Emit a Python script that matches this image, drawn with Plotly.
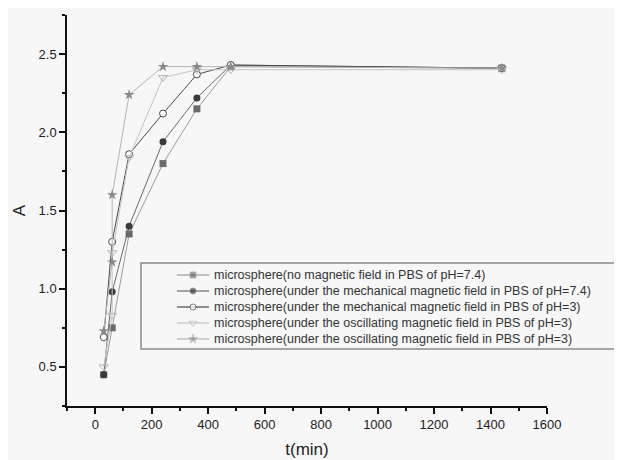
import plotly.graph_objects as go

# ---- data ----
names = [
    "microsphere(no magnetic field in PBS of pH=7.4)",
    "microsphere(under the mechanical magnetic field in PBS of pH=7.4)",
    "microsphere(under the mechanical magnetic field in PBS of pH=3)",
    "microsphere(under the oscillating magnetic field in PBS of pH=3)",
    "microsphere(under the oscillating magnetic field in PBS of pH=3)",
]
t_sq = [30, 60, 120, 240, 360, 480, 1440]
a_sq = [0.45, 0.75, 1.35, 1.80, 2.15, 2.42, 2.41]
t_fc = [30, 60, 120, 240, 360, 480, 1440]
a_fc = [0.45, 0.98, 1.40, 1.94, 2.22, 2.43, 2.41]
t_oc = [30, 60, 120, 240, 360, 480, 1440]
a_oc = [0.69, 1.30, 1.86, 2.12, 2.37, 2.43, 2.41]
t_tr = [30, 60, 60, 120, 240, 360, 480, 1440]
a_tr = [0.50, 0.83, 1.23, 1.84, 2.35, 2.40, 2.40, 2.40]
t_st = [30, 60, 60, 120, 240, 360, 480, 1440]
a_st = [0.73, 1.17, 1.60, 2.24, 2.42, 2.42, 2.42, 2.41]

x_ticks = [0, 200, 400, 600, 800, 1000, 1200, 1400, 1600]
y_ticks = [0.5, 1.0, 1.5, 2.0, 2.5]

W, H = 622, 460
OFF = 8  # page body margin
# plot area in page pixels: x 67..547, y 15..406
L, R, T, B = 67 - OFF, W - (547 - OFF), 15 - OFF, H - (406 - OFF)
pw, ph = W - L - R, H - T - B

def px2x(p):
    return (p - OFF - L) / pw

def px2y(p):
    return (H - B - (p - OFF)) / ph

styles = [
    (t_sq, a_sq, dict(symbol="square", size=7, color="#6a6a6a"), "#9c9c9c"),
    (t_fc, a_fc, dict(symbol="circle", size=7, color="#3a3a3a"), "#6a6a6a"),
    (t_oc, a_oc, dict(symbol="circle", size=7, color="#ffffff",
                      line=dict(color="#4a4a4a", width=1)), "#4a4a4a"),
    (t_tr, a_tr, dict(symbol="triangle-down-open", size=8, color="#b8b8b8",
                      line=dict(width=1)), "#c4c4c4"),
    (t_st, a_st, dict(symbol="star", size=8, color="#8a8a8a"), "#b4b4b4"),
]

fig = go.Figure()
for (xs, ys, mk, lc), nm in zip(styles, names):
    fig.add_trace(go.Scatter(x=xs, y=ys, mode="lines+markers", name=nm,
                             marker=mk, line=dict(color=lc, width=1),
                             showlegend=False))

# ---- legend drawn by hand (rows 16 px apart, like the reference) ----
row0, gap = 275, 16
for i, ((xs, ys, mk, lc), nm) in enumerate(zip(styles, names)):
    yr = row0 + i * gap
    mk2 = dict(mk)
    mk2["size"] = [0, mk["size"] - 1, 0]
    fig.add_trace(go.Scatter(x=[177, 193, 209], y=[yr, yr, yr], mode="lines+markers",
                             marker=mk2, line=dict(color=lc, width=1.2),
                             xaxis="x2", yaxis="y2", showlegend=False,
                             hoverinfo="skip"))
    fig.add_annotation(x=px2x(212), y=px2y(yr), xref="paper", yref="paper",
                       text=nm, showarrow=False, xanchor="left", yanchor="middle",
                       font=dict(size=12.5, color="#333"))

fig.add_shape(type="rect", xref="paper", yref="paper",
              x0=px2x(141), x1=1.3, y0=px2y(349), y1=px2y(263),
              line=dict(color="#8a8a8a", width=1.5), fillcolor="rgba(0,0,0,0)")

fig.update_layout(
    width=W, height=H,
    margin=dict(l=L, r=R, t=T, b=B, autoexpand=False),
    paper_bgcolor="#f7f7f7", plot_bgcolor="rgba(0,0,0,0)",
    font=dict(family="Liberation Sans, Arial, sans-serif", color="#222"),
    showlegend=False,
    xaxis=dict(range=[-100, 1600], tickvals=x_ticks, ticks="outside", ticklen=6,
               tickwidth=1.5, tickcolor="#111", showline=True, linecolor="#111",
               linewidth=1.5, showgrid=False, zeroline=False, automargin=False,
               minor=dict(dtick=100, tick0=0, ticks="outside", ticklen=3,
                          tickcolor="#111", tickwidth=1.5),
               tickfont=dict(size=13, color="#222"),
               title=dict(text="t(min)", font=dict(size=17, color="#222"), standoff=12)),
    yaxis=dict(range=[0.25, 2.75], tickvals=y_ticks, ticktext=["0.5", "1.0", "1.5", "2.0", "2.5"],
               ticks="outside", ticklen=6, tickwidth=1.5, tickcolor="#111",
               showline=True, linecolor="#111", linewidth=1.5, showgrid=False,
               zeroline=False, automargin=False,
               minor=dict(dtick=0.25, tick0=0.25, ticks="outside", ticklen=3,
                          tickcolor="#111", tickwidth=1.5),
               tickfont=dict(size=13, color="#222"),
               title=dict(text="A", font=dict(size=17, color="#222"), standoff=9)),
    xaxis2=dict(range=[67, 547], overlaying="x", visible=False, fixedrange=True),
    yaxis2=dict(range=[406, 15], overlaying="y", visible=False, fixedrange=True),
)

fig.write_html("out.html")
